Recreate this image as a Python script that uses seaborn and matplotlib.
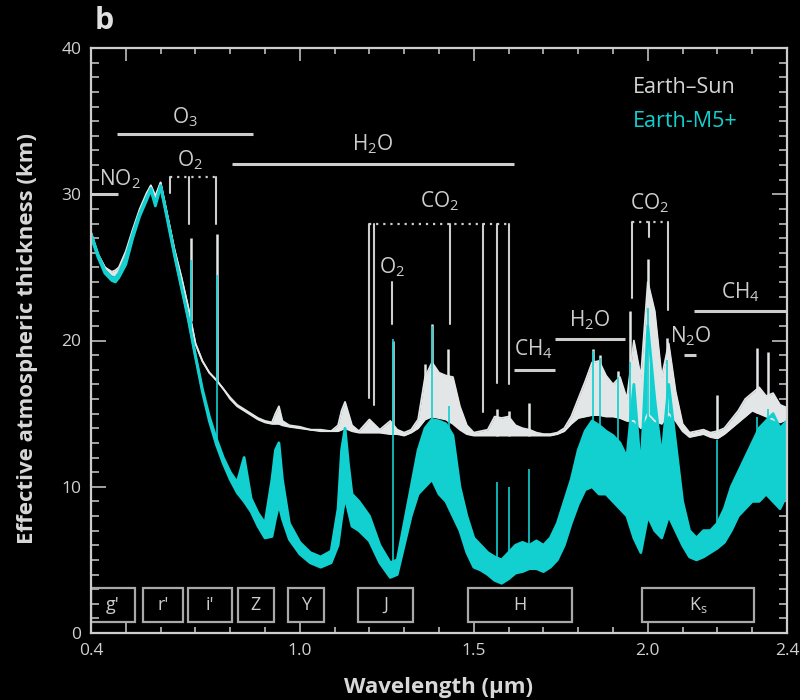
import numpy as np
import pandas as pd
import matplotlib
matplotlib.use("Agg")
import matplotlib.pyplot as plt
import seaborn as sns
from matplotlib.patches import Rectangle

# wavelength grid (um)
wl = [0.40, 0.42, 0.44, 0.46, 0.47, 0.48, 0.50, 0.52, 0.54, 0.56,
      0.572, 0.585, 0.60, 0.62, 0.64, 0.66, 0.68, 0.70, 0.72, 0.74,
      0.76, 0.78, 0.80, 0.82, 0.84, 0.86, 0.88, 0.90, 0.92, 0.93,
      0.94, 0.95, 0.97, 1.00, 1.03, 1.06, 1.09, 1.11, 1.12, 1.13,
      1.14, 1.15, 1.17, 1.20, 1.23, 1.26, 1.28, 1.30, 1.32, 1.34,
      1.36, 1.38, 1.40, 1.42, 1.44, 1.46, 1.48, 1.50, 1.52, 1.54,
      1.56, 1.58, 1.60, 1.62, 1.64, 1.66, 1.68, 1.70, 1.72, 1.74,
      1.76, 1.78, 1.80, 1.82, 1.84, 1.86, 1.88, 1.90, 1.92, 1.94,
      1.96, 1.98, 2.00, 2.02, 2.04, 2.06, 2.08, 2.10, 2.12, 2.14,
      2.16, 2.18, 2.20, 2.22, 2.24, 2.26, 2.28, 2.30, 2.32, 2.34,
      2.36, 2.38, 2.40]

# Earth-Sun: lower / upper edge of the noisy trace (km)
sun_lo = [27.4, 25.9, 25.0, 24.5, 24.4, 24.6, 25.5, 27.3, 28.8, 29.9,
          30.6, 29.8, 30.8, 28.5, 26.2, 24.3, 22.2, 19.8, 18.6, 17.8,
          17.3, 16.7, 16.0, 15.5, 15.2, 14.9, 14.6, 14.4, 14.3, 14.3,
          14.3, 14.2, 14.1, 14.0, 13.9, 13.8, 13.8, 13.8, 13.9, 14.0,
          13.9, 13.8, 13.7, 13.7, 13.7, 13.6, 13.6, 13.5, 13.7, 14.0,
          14.6, 14.8, 14.7, 14.6, 14.3, 13.9, 13.6, 13.5, 13.5, 13.5,
          13.5, 13.5, 13.5, 13.5, 13.5, 13.5, 13.5, 13.5, 13.5, 13.6,
          13.8, 14.3, 14.7, 14.8, 14.9, 14.9, 14.8, 14.8, 14.7, 14.5,
          14.5, 14.0, 15.0, 14.5, 14.3, 15.0, 14.5, 13.8, 13.4, 13.5,
          13.6, 13.4, 13.3, 13.6, 14.0, 14.4, 14.8, 15.2, 15.0, 14.8,
          14.6, 14.4, 14.6]
sun_hi = [27.4, 25.9, 25.0, 24.7, 24.8, 25.0, 26.1, 27.6, 29.0, 30.1,
          30.6, 29.9, 30.8, 28.5, 26.2, 24.3, 22.2, 19.8, 18.6, 17.8,
          17.3, 16.7, 16.1, 15.6, 15.3, 15.0, 14.7, 14.5, 14.4, 15.0,
          15.5, 14.5, 14.2, 14.1, 13.9, 13.9, 13.8, 14.2, 15.2, 15.8,
          15.0, 14.2, 13.8, 14.6, 13.9, 14.5, 13.9, 13.7, 13.9, 14.6,
          17.5, 18.5, 17.8, 17.6, 17.5, 15.5, 14.2, 13.7, 13.8, 13.9,
          14.8, 14.7, 14.8, 14.2, 14.0, 13.9, 13.7, 13.6, 13.6, 13.7,
          14.0, 14.8, 16.0, 17.2, 18.5, 18.6, 17.6, 17.0, 17.5, 16.0,
          20.0, 17.5, 24.0, 22.0, 17.5, 19.8, 16.5, 14.3, 13.7, 13.8,
          13.9, 13.7, 13.8, 14.0, 14.6, 15.2, 16.0, 16.4, 16.8, 16.2,
          16.4, 15.6, 15.4]

# Earth-M5+: lower / upper edge
m5_lo = [27.1, 25.7, 24.6, 24.1, 24.0, 24.3, 25.2, 27.0, 28.5, 29.6,
         30.3, 29.2, 30.5, 28.2, 25.8, 23.6, 21.4, 18.9, 16.5, 14.5,
         12.9, 11.6, 10.5, 9.6, 9.0, 8.3, 7.3, 6.5, 6.6, 7.8,
         8.8, 7.8, 6.4, 5.4, 4.8, 4.5, 4.8, 6.0, 7.8, 9.3,
         8.3, 7.3, 7.0, 6.3, 4.8, 3.8, 4.0, 6.0, 8.0, 9.5,
         10.0, 10.5, 9.5, 9.0, 8.0, 7.0, 5.5, 4.5, 4.3, 4.0,
         3.6, 3.4, 3.7, 4.1, 4.2, 4.4, 4.4, 4.2, 4.5, 5.0,
         6.0, 7.5, 8.8, 9.8, 10.0, 9.5, 9.5, 9.0, 8.5, 8.0,
         6.5, 5.5, 8.0, 7.0, 6.5, 8.0, 7.0, 6.0, 5.2, 5.0,
         5.2, 5.5, 5.8, 6.2, 7.0, 8.0, 8.5, 9.0, 9.0, 9.5,
         9.0, 8.5, 9.5]
m5_hi = [27.3, 25.9, 24.8, 24.3, 24.3, 24.6, 25.7, 27.3, 28.7, 29.8,
         30.4, 29.4, 30.6, 28.3, 25.9, 23.7, 21.5, 19.0, 16.7, 14.8,
         13.3, 12.0, 11.0, 10.3, 12.0, 9.2, 8.2, 7.5, 10.5, 12.5,
         13.0, 10.5, 7.5, 6.2, 5.5, 5.2, 5.6, 8.5, 12.5, 14.0,
         11.5, 9.5, 9.0, 8.0, 6.0, 4.8, 5.0, 7.5, 10.0, 12.5,
         14.0, 14.6, 14.5, 14.3, 13.5, 10.0, 8.0, 6.5, 6.0, 5.5,
         5.2, 5.0, 5.5, 6.0, 6.2, 6.0, 6.3, 6.0, 6.5, 7.5,
         9.0, 10.5, 12.5, 13.8, 14.5, 14.2, 13.8, 13.5, 13.0, 12.0,
         17.0, 11.0, 21.0, 16.0, 12.0, 17.0, 13.0, 9.0, 7.0, 6.5,
         7.0, 7.0, 7.5, 8.5, 10.0, 11.0, 12.0, 13.0, 14.0, 14.5,
         15.0, 14.0, 14.5]

# narrow absorption lines (wavelength, top of line)
sun_line_wl = [0.687, 0.762, 1.268, 1.36, 1.38, 1.426, 1.567, 1.60, 1.66,
               1.843, 1.862, 1.913, 1.949, 2.00, 2.055, 2.20, 2.315, 2.345]
sun_line_top = [27.0, 27.3, 20.0, 18.4, 21.1, 19.4, 15.3, 15.2, 15.7,
                19.4, 19.0, 17.9, 22.0, 25.6, 20.2, 16.3, 19.5, 19.2]
m5_line_wl = [0.687, 0.762, 1.268, 1.38, 1.43, 1.567, 1.60, 1.66,
              1.843, 1.862, 1.913, 1.949, 2.00, 2.055, 2.20, 2.315, 2.345]
m5_line_top = [25.5, 24.5, 20.1, 21.0, 15.5, 10.3, 10.0, 11.2,
               19.3, 18.8, 17.5, 18.5, 22.2, 18.7, 13.2, 14.8, 15.3]

# photometric filters
filt_names = ["g'", "r'", "i'", "Z", "Y", "J", "H", "K$\\mathregular{_s}$"]
filt_lo = [0.40, 0.549, 0.679, 0.822, 0.966, 1.167, 1.483, 1.983]
filt_hi = [0.526, 0.664, 0.805, 0.926, 1.070, 1.325, 1.782, 2.305]

WHITE = "#e2e6e6"
CYAN = "#12cfd0"
GREY = "#cdcdcd"

sns.set_theme(style="dark", rc={"axes.facecolor": "black",
                                "figure.facecolor": "black",
                                "axes.edgecolor": GREY})
plt.rcParams["font.family"] = ["Open Sans", "DejaVu Sans"]

df = pd.DataFrame({"wl": wl, "sun_lo": sun_lo, "sun_hi": sun_hi,
                   "m5_lo": m5_lo, "m5_hi": m5_hi})

fig = plt.figure(figsize=(8, 7), dpi=100)
ax = fig.add_axes([91 / 800, 1 - 633 / 700, 696 / 800, 585 / 700])

# Earth-Sun trace
ax.fill_between(df["wl"], df["sun_lo"], df["sun_hi"], color=WHITE, lw=0)
sns.lineplot(data=df, x="wl", y="sun_hi", ax=ax, color=WHITE, lw=1.3,
             estimator=None, sort=False)
sns.lineplot(data=df, x="wl", y="sun_lo", ax=ax, color=WHITE, lw=1.3,
             estimator=None, sort=False)
ax.vlines(sun_line_wl, np.interp(sun_line_wl, wl, sun_lo), sun_line_top,
          color=WHITE, lw=1.8)

# Earth-M5+ trace on top
ax.fill_between(df["wl"], df["m5_lo"], df["m5_hi"], color=CYAN, lw=0)
sns.lineplot(data=df, x="wl", y="m5_hi", ax=ax, color=CYAN, lw=2.0,
             estimator=None, sort=False)
sns.lineplot(data=df, x="wl", y="m5_lo", ax=ax, color=CYAN, lw=2.0,
             estimator=None, sort=False)
ax.vlines(m5_line_wl, np.interp(m5_line_wl, wl, m5_lo), m5_line_top,
          color=CYAN, lw=1.2)

# molecule band markers
lab = dict(color=GREY, fontsize=15, ha="center", va="center")
solid = [(0.400, 0.478, 30.0), (0.475, 0.866, 34.1), (0.805, 1.616, 32.1),
         (1.616, 1.733, 18.0), (1.733, 1.935, 20.1), (2.103, 2.138, 19.0),
         (2.133, 2.400, 22.0)]
for x0, x1, y in solid:
    ax.plot([x0, x1], [y, y], color=GREY, lw=2.2, solid_capstyle="butt")
ax.text(0.482, 31.0, r"$\mathregular{NO_2}$", **lab)
ax.text(0.670, 35.3, r"$\mathregular{O_3}$", **lab)
ax.text(0.684, 32.3, r"$\mathregular{O_2}$", **lab)
ax.text(1.210, 33.4, r"$\mathregular{H_2O}$", **lab)
ax.text(1.403, 29.5, r"$\mathregular{CO_2}$", **lab)
ax.text(1.265, 25.0, r"$\mathregular{O_2}$", **lab)
ax.text(1.670, 19.4, r"$\mathregular{CH_4}$", **lab)
ax.text(1.834, 21.4, r"$\mathregular{H_2O}$", **lab)
ax.text(2.006, 29.4, r"$\mathregular{CO_2}$", **lab)
ax.text(2.125, 20.3, r"$\mathregular{N_2O}$", **lab)
ax.text(2.265, 23.3, r"$\mathregular{CH_4}$", **lab)

# dotted brackets with line markers
brackets = [(0.628, 0.760, 31.2, [(0.628, 30.1), (0.682, 28.0), (0.760, 28.0)]),
            (1.199, 1.601, 28.0, [(1.199, 16.1), (1.213, 15.6), (1.432, 21.1),
                                  (1.526, 15.1), (1.567, 17.1), (1.601, 17.0)]),
            (1.955, 2.058, 28.1, [(1.955, 22.9), (2.003, 27.1), (2.058, 22.1)])]
for x0, x1, ytop, legs in brackets:
    ax.plot([x0, x1], [ytop, ytop], color=GREY, lw=1.6, ls=(0, (1, 2.2)))
    for xl, yb in legs:
        ax.plot([xl, xl], [ytop, yb], color=GREY, lw=1.5)
ax.plot([1.265, 1.265], [24.0, 21.1], color=GREY, lw=1.5)

# filter boxes
for name, x0, x1 in zip(filt_names, filt_lo, filt_hi):
    ax.add_patch(Rectangle((x0, 0.75), x1 - x0, 2.35, fill=False,
                           ec="#a9a9a9", lw=1.6))
    ax.text((x0 + x1) / 2, 1.9, name, color=GREY, fontsize=13,
            ha="center", va="center")

# legend as coloured text
ax.text(0.779, 0.932, "Earth\u2013Sun", color="#d4d4d4", fontsize=15.5,
        transform=ax.transAxes, va="center")
ax.text(0.779, 0.875, "Earth-M5+", color=CYAN, fontsize=15.5,
        transform=ax.transAxes, va="center")

ax.set_xlim(0.4, 2.4)
ax.set_ylim(0, 40)
ax.set_xticks([0.4, 0.5, 1.0, 1.5, 2.0, 2.4])
ax.set_xticklabels(["0.4", "", "1.0", "1.5", "2.0", "2.4"])
ax.set_xticks(np.arange(0.4, 2.41, 0.1), minor=True)
ax.set_yticks([0, 10, 20, 30, 40])
ax.set_yticks(np.arange(0, 41, 1), minor=True)
ax.tick_params(which="both", direction="in", top=True, right=True,
               bottom=True, left=True, color=GREY, labelcolor="#d0d0d0",
               labelsize=12.5, width=1.1)
ax.tick_params(axis="x", which="major", length=9, pad=7)
ax.tick_params(axis="x", which="minor", length=4.5)
ax.tick_params(axis="y", which="major", length=11, pad=7)
ax.tick_params(axis="y", which="minor", length=6)
ax.grid(False)
ax.set_xlabel("")
ax.set_ylabel("")
for s in ax.spines.values():
    s.set_color(GREY)
    s.set_linewidth(1.6)
    s.set_visible(True)

fig.text(28 / 800, 1 - 338 / 700, "Effective atmospheric thickness (km)",
         rotation=90, ha="center", va="center", color="#d8d8d8",
         fontsize=16, fontweight="bold")
fig.text(439 / 800, 1 - 688 / 700, "Wavelength (\u03bcm)", ha="center",
         va="center", color="#d8d8d8", fontsize=16, fontweight="bold")
fig.text(95 / 800, 1 - 21 / 700, "b", ha="left", va="center",
         color="#e0e0e0", fontsize=22, fontweight="bold")

fig.savefig("out.png", dpi=100, facecolor="black")
